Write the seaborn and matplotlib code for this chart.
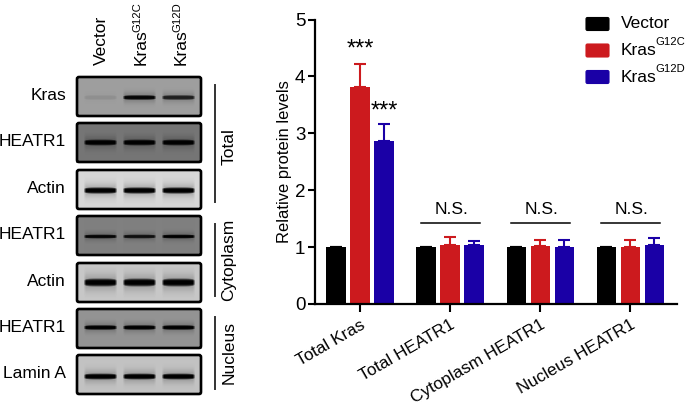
import numpy as np
import pandas as pd
import matplotlib
matplotlib.use('Agg')
import matplotlib.pyplot as plt
from matplotlib.patches import FancyBboxPatch
import seaborn as sns

# Bar chart values
targets = ['Total Kras', 'Total HEATR1', 'Cytoplasm HEATR1', 'Nucleus HEATR1']
vector = [1.0, 1.0, 1.0, 1.0]
g12c = [3.82, 1.04, 1.02, 1.01]
g12d = [2.87, 1.03, 1.01, 1.04]
g12c_err = [0.39, 0.13, 0.10, 0.12]
g12d_err = [0.29, 0.07, 0.11, 0.12]
vector_err = [0.0, 0.0, 0.0, 0.0]
yticks = [0, 1, 2, 3, 4, 5]
ns_level = 1.42

# Western blot panels (band darkness per lane)
blot_names = ['Kras', 'HEATR1', 'Actin', 'HEATR1', 'Actin', 'HEATR1', 'Lamin A']
blot_bg = [0.62, 0.46, 0.84, 0.50, 0.78, 0.58, 0.76]
blot_bands = [[0.06, 0.60, 0.50], [0.46, 0.46, 0.46], [0.84, 0.84, 0.84],
              [0.48, 0.44, 0.50], [0.78, 0.78, 0.78], [0.58, 0.58, 0.58], [0.76, 0.76, 0.76]]
blot_thick = [2.4, 3.0, 3.2, 2.0, 4.0, 2.4, 3.0]
blot_center = [20, 19, 20, 20, 19, 18, 21]
lane_names = ['Vector', 'Kras', 'Kras']
lane_sup = ['', 'G12C', 'G12D']
fractions = ['Total', 'Cytoplasm', 'Nucleus']

black = '#000000'
red = '#CC1A1E'
blue = '#1A00A6'

plt.rcParams['font.family'] = ['Liberation Sans', 'DejaVu Sans']

W, H = 685, 405
fig = plt.figure(figsize=(W / 100, H / 100), dpi=100)


def px_axes(x0, y0, x1, y1):
    # pixel box, y measured from the top
    return fig.add_axes([x0 / W, 1 - y1 / H, (x1 - x0) / W, (y1 - y0) / H])


# Bars
ax = px_axes(315, 19.5, 677, 304)
df = pd.DataFrame({
    'target': targets * 3,
    'group': ['Vector'] * 4 + ['G12C'] * 4 + ['G12D'] * 4,
    'value': vector + g12c + g12d,
})
sns.barplot(data=df, x='target', y='value', hue='group', order=targets,
            hue_order=['Vector', 'G12C', 'G12D'],
            palette=[black, red, blue], width=0.8, gap=0.2, errorbar=None,
            saturation=1, ax=ax, legend=False)

for bars, errs, col in zip(ax.containers, [vector_err, g12c_err, g12d_err], [black, red, blue]):
    xs = [b.get_x() + b.get_width() / 2 for b in bars]
    ys = [b.get_height() for b in bars]
    ax.errorbar(xs, ys, yerr=[[0] * 4, errs], fmt='none', ecolor=col,
                elinewidth=1.5, capsize=4.5, capthick=1.5, zorder=1)

ax.set_xlim(-0.5, 3.52)
ax.set_ylim(0, 5)
ax.set_yticks(yticks)
ax.set_xlabel('')
ax.set_ylabel('Relative protein levels', fontsize=11.9, labelpad=2)
ax.set_xticks(range(4))
ax.set_xticklabels(targets, rotation=30, ha='right', rotation_mode='anchor', fontsize=12.3)
ax.tick_params(axis='y', length=5, width=1.5, labelsize=13.5, pad=2)
ax.tick_params(axis='x', length=6, width=1.5, pad=3.5)
for side in ['top', 'right']:
    ax.spines[side].set_visible(False)
for side in ['left', 'bottom']:
    ax.spines[side].set_linewidth(1.6)

# Significance marks
ax.text(0, 4.47, '***', ha='center', va='center', fontsize=17)
ax.text(0.267, 3.38, '***', ha='center', va='center', fontsize=17)
for i in [1, 2, 3]:
    ax.plot([i - 0.32, i + 0.33], [ns_level, ns_level], color='black', lw=1.1, clip_on=False)
    ax.text(i + 0.02, 1.53, 'N.S.', ha='center', va='bottom', fontsize=12.5)

# Everything else sits on a full-figure overlay in pixel coordinates
ov = fig.add_axes([0, 0, 1, 1], zorder=5)
ov.set_xlim(0, W)
ov.set_ylim(H, 0)
ov.axis('off')
ov.patch.set_alpha(0)

# Legend
legend_rows = [('Vector', '', black, 24), ('Kras', 'G12C', red, 50.5), ('Kras', 'G12D', blue, 77)]
for label, sup, col, y in legend_rows:
    ov.add_patch(FancyBboxPatch((586, y - 6.5), 23, 13, boxstyle='round,pad=0,rounding_size=1.5',
                                fc=col, ec=col, lw=0.8))
    ov.text(621, y, label, va='center', ha='left', fontsize=12.5)
    if sup:
        ov.text(655, y - 8.5, sup, va='center', ha='left', fontsize=8.1)

# Blots
panel_tops = [77, 123, 170, 216, 263, 309, 355]
lane_x = [24, 63, 102]
yy, xx = np.mgrid[0:40, 0:126]
for name, top, bg, bands, thick, mid in zip(blot_names, panel_tops, blot_bg, blot_bands, blot_thick, blot_center):
    img = np.full((40, 126), float(bg))
    for cx, dark in zip(lane_x, bands):
        dx = np.abs(xx - cx)
        across = np.clip((17 - dx) / 2.5, 0, 1)
        taper = np.sqrt(np.clip(1 - (dx / 19) ** 4, 0.05, 1))
        core = np.exp(-((yy - mid) / (thick * taper)) ** 4)
        halo = np.exp(-((yy - mid) / (thick * 2.2)) ** 2)
        img -= dark * across * np.maximum(core, 0.22 * halo)
    band_ax = px_axes(76, top, 202, top + 40)
    band_ax.imshow(np.clip(img, 0, 1), cmap='gray', vmin=0, vmax=1, aspect='auto', interpolation='bilinear')
    band_ax.axis('off')
    ov.add_patch(FancyBboxPatch((77, top), 124, 39, boxstyle='round,pad=0,rounding_size=2',
                                fc='none', ec='black', lw=1.9))
    ov.text(66, top + 18.5, name, ha='right', va='center', fontsize=12.5)

for x, name, sup in zip([101, 141, 181], lane_names, lane_sup):
    ov.text(x, 65, name, rotation=90, ha='center', va='bottom', fontsize=12.5)
    if sup:
        ov.text(x - 4, 31.5, sup, rotation=90, ha='center', va='bottom', fontsize=8.1)

# Fraction brackets
for name, y0, y1, mid in zip(fractions, [85, 224, 317], [202, 296, 389], [147, 260, 353]):
    ov.plot([215, 215], [y0, y1], color='#333333', lw=1.4)
    ov.text(229, mid, name, rotation=90, ha='center', va='center', fontsize=12.5)

fig.savefig('out.png', dpi=100)
